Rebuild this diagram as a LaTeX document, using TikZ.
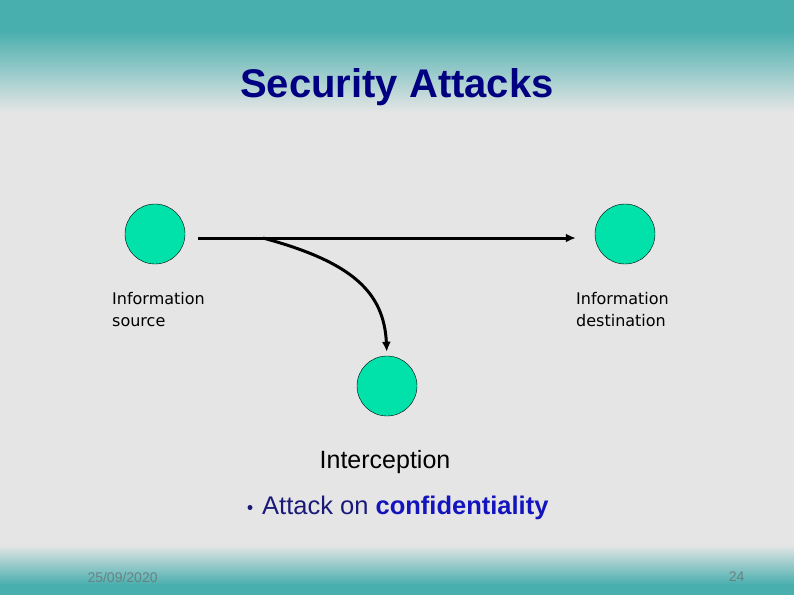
\documentclass[tikz,border=0pt]{standalone}
\usepackage{fontspec}
\setmainfont{Liberation Sans}
\newfontfamily\labelfont{DejaVu Sans}
\usepackage{tikz}
\usepackage{xcolor}
\usetikzlibrary{arrows.meta, positioning, calc}
\definecolor{cTeal}{RGB}{72,174,174}
\definecolor{cPaper}{RGB}{229,229,229}
\definecolor{cNavy}{RGB}{0,0,128}
\definecolor{cBlue}{RGB}{20,20,190}
\definecolor{cDark}{RGB}{25,25,120}
\definecolor{cNode}{RGB}{0,226,170}
\definecolor{cFoot}{RGB}{105,130,130}
\tikzset{
	party/.style    ={circle, draw=black, thin, fill=cNode, minimum size=60pt, inner sep=0pt},
	msgarrow/.style ={-{Latex[length=10pt, width=9pt]}, line width=3pt},
	infolabel/.style={font=\labelfont\fontsize{16}{22}\selectfont, align=left, anchor=north west, inner sep=0pt},
	footer/.style   ={font=\fontsize{14}{16}\selectfont, text=cFoot},
}
\begin{document}
\begin{tikzpicture}[x=1pt, y=-1pt]
	\useasboundingbox (0,0) rectangle (794,595);
	% slide background
	\fill[cPaper] (0,0) rectangle (794,595);
	\shade[top color=cTeal, bottom color=cPaper] (0,30) rectangle (794,112);
	\fill[cTeal] (0,0) rectangle (794,30.5);
	\shade[top color=cPaper, bottom color=cTeal] (0,545) rectangle (794,585);
	\fill[cTeal] (0,584.5) rectangle (794,595);
	\node[font=\bfseries\fontsize{40}{44}\selectfont, text=cNavy] (title) at (397,87) {Security Attacks};
	% parties
	\node[party] (src) at (155,234) {};
	\node[party] (dst) at (625,234) {};
	\node[party] (eve) at (387,386) {};
	\node[infolabel] (srclbl) at (112,292) {Information\\source};
	\node[infolabel] (dstlbl) at (576,292) {Information\\destination};
	% flows
	\coordinate (tap) at (263,238);
	\draw[msgarrow, shorten <=13pt, shorten >=19pt] (src.east |- tap) -- (dst.west |- tap);
	\draw[msgarrow, shorten >=4pt] (tap) .. controls (352,262) and (384,292) .. (eve.north);
	% caption
	\node[font=\fontsize{25}{28}\selectfont] (caption) at (385,462) {Interception};
	\node[anchor=base west, inner sep=0pt, font=\fontsize{25.5}{28}\selectfont, text=cDark] (point) at (262,514) {Attack on \textcolor{cBlue}{\bfseries confidentiality}};
	\fill[cDark] (250,507.5) circle (2.5);
	% footer
	\node[footer, anchor=west] (date) at (84,577) {25/09/2020};
	\node[footer, anchor=east] (page) at (748,577) {24};
\end{tikzpicture}
\end{document}
